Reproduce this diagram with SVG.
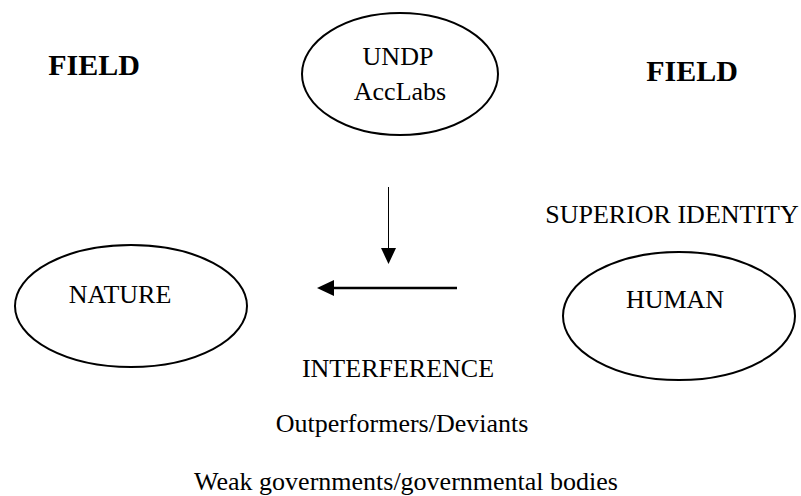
<svg xmlns="http://www.w3.org/2000/svg" width="801" height="496" viewBox="0 0 801 496">
<style>
.t{font-size:26px}
.b{font-size:30px;font-weight:bold}
.e{fill:none;stroke:#000;stroke-width:2}
</style>
<rect width="801" height="496" fill="#fff"/>
<g font-family="Liberation Serif, Times New Roman, serif" fill="#000">
<g id="field-left"><text class="b" x="94" y="75" text-anchor="middle">FIELD</text></g>
<g id="field-right"><text class="b" x="692" y="81" text-anchor="middle">FIELD</text></g>
<g id="undp">
<ellipse class="e" cx="400" cy="74" rx="98" ry="61"/>
<text class="t" x="398" y="65" text-anchor="middle">UNDP</text>
<text class="t" x="400" y="100" text-anchor="middle">AccLabs</text>
</g>
<g id="nature">
<ellipse class="e" cx="131" cy="306" rx="116" ry="61"/>
<text class="t" x="120" y="303" text-anchor="middle">NATURE</text>
</g>
<g id="human">
<text class="t" x="672" y="223" text-anchor="middle">SUPERIOR IDENTITY</text>
<ellipse class="e" cx="679" cy="316" rx="116" ry="64"/>
<text class="t" x="675" y="308" text-anchor="middle">HUMAN</text>
</g>
<g id="labels">
<text class="t" x="398" y="377" text-anchor="middle">INTERFERENCE</text>
<text class="t" x="402" y="432" text-anchor="middle">Outperformers/Deviants</text>
<text class="t" x="406" y="490" text-anchor="middle">Weak governments/governmental bodies</text>
</g>
</g>
<g id="connectors">
<line x1="388.5" y1="187" x2="388.5" y2="248" stroke="#000" stroke-width="1"/>
<path d="M381,248 L396,248 L388.5,264 Z" fill="#000"/>
<line x1="457" y1="288" x2="332" y2="288" stroke="#000" stroke-width="2.5"/>
<path d="M334,280 L334,296 L317,288 Z" fill="#000"/>
</g>
</svg>
